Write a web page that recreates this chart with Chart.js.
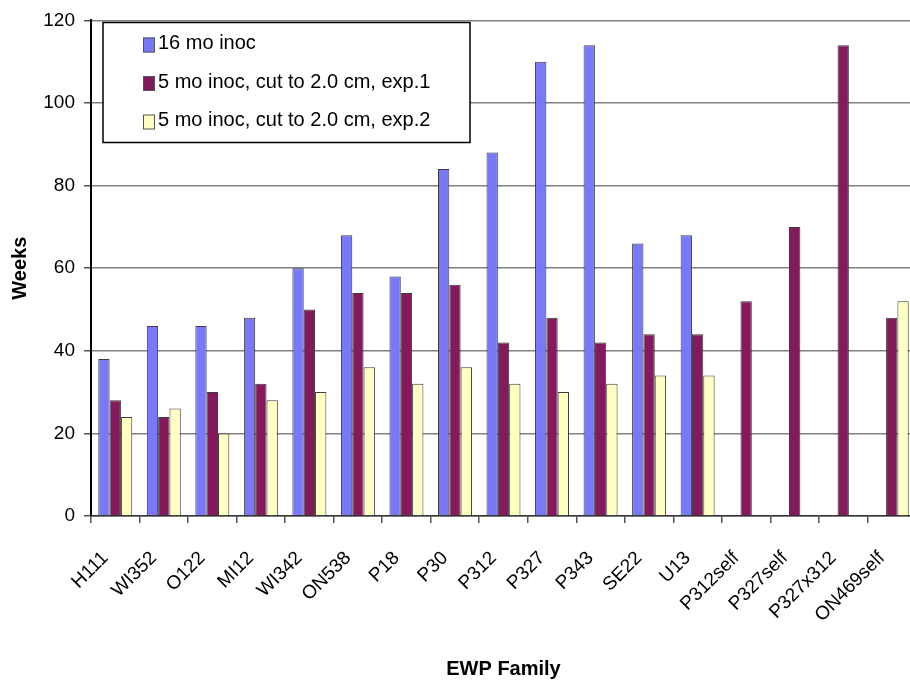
<!DOCTYPE html>
<html>
<head>
<meta charset="utf-8">
<script src="https://cdn.jsdelivr.net/npm/chart.js@4/dist/chart.umd.min.js"></script>
<style>
  html, body { margin: 0; padding: 0; background: #fff; overflow: hidden; }
  #wrap { position: relative; width: 917px; height: 686px; }
</style>
</head>
<body>
<div id="wrap"><canvas id="c"></canvas></div>
<script>
// EWP families on the x axis
const families = ['H111', 'WI352', 'O122', 'MI12', 'WI342', 'ON538', 'P18', 'P30', 'P312',
  'P327', 'P343', 'SE22', 'U13', 'P312self', 'P327self', 'P327x312', 'ON469self'];

// Series names
const seriesNames = ['16 mo inoc', '5 mo inoc, cut to 2.0 cm, exp.1', '5 mo inoc, cut to 2.0 cm, exp.2'];

// Weeks per family for each series (null = not tested)
const inoc16 = [38, 46, 46, 48, 60, 68, 58, 84, 88, 110, 114, 66, 68, null, null, null, null];
const exp1   = [28, 24, 30, 32, 50, 54, 54, 56, 42, 48, 42, 44, 44, 52, 70, 114, 48];
const exp2   = [24, 26, 20, 28, 30, 36, 32, 36, 32, 30, 32, 34, 34, null, null, null, 52];

// Y axis ticks
const weekTicks = [0, 20, 40, 60, 80, 100, 120];

const colors = ['#7878f8', '#84195b', '#ffffc4'];

Chart.defaults.font.family = '"Liberation Sans", Arial, sans-serif';
Chart.defaults.color = '#000';

// Boxed legend drawn inside the plot area, top left
const legendBox = {
  id: 'legendBox',
  afterDatasetsDraw(chart, args, o) {
    const ctx = chart.ctx;
    ctx.save();
    ctx.fillStyle = '#fff';
    ctx.fillRect(o.left, o.top, o.width, o.height);
    ctx.strokeStyle = '#000';
    ctx.lineWidth = 1.5;
    ctx.strokeRect(o.left, o.top, o.width, o.height);
    ctx.font = '20px "Liberation Sans", Arial, sans-serif';
    ctx.textBaseline = 'alphabetic';
    ctx.textAlign = 'left';
    chart.data.datasets.forEach((ds, i) => {
      const cy = o.firstRow + i * o.rowGap;
      ctx.fillStyle = ds.backgroundColor;
      ctx.fillRect(o.markerX, cy - 7.5, 12, 15);
      ctx.strokeStyle = '#555';
      ctx.lineWidth = 1;
      ctx.strokeRect(o.markerX + 0.5, cy - 7, 11, 14);
      ctx.fillStyle = '#000';
      ctx.fillText(ds.label, o.textX, cy + 4);
    });
    ctx.restore();
  }
};

new Chart(document.getElementById('c'), {
  type: 'bar',
  data: {
    labels: families,
    datasets: [inoc16, exp1, exp2].map((d, i) => ({
      label: seriesNames[i],
      data: d,
      backgroundColor: colors[i],
      borderColor: '#3c3c3c',
      borderWidth: 1,
      categoryPercentage: 0.7,
      barPercentage: 1.0
    }))
  },
  options: {
    responsive: true,
    maintainAspectRatio: false,
    animation: false,
    layout: { padding: { top: 20, left: 0, right: 1, bottom: 0 } },
    plugins: {
      legend: { display: false },
      tooltip: { enabled: false },
      legendBox: {
        left: 103, top: 22.5, width: 367, height: 120,
        markerX: 143, textX: 158, firstRow: 45, rowGap: 38.5
      }
    },
    scales: {
      x: {
        afterFit(s) { s.height = 170; s.paddingLeft = 0; s.paddingRight = 0; },
        grid: {
          drawOnChartArea: false, offset: true, tickLength: 7,
          color: '#555', lineWidth: 1.5
        },
        border: { color: '#333', width: 1.5 },
        ticks: {
          autoSkip: false, maxRotation: 45, minRotation: 45,
          padding: 24, labelOffset: -10,
          font: { size: 19 }, color: '#000'
        },
        title: {
          display: true, text: 'EWP Family',
          font: { size: 20, weight: 'bold' },
          padding: { top: 0, bottom: 5 }
        }
      },
      y: {
        min: 0, max: 120,
        afterFit(s) { s.width = 91; },
        afterBuildTicks(s) { s.ticks = weekTicks.map(v => ({ value: v })); },
        grid: { color: '#808080', lineWidth: 1.5, tickLength: 7, tickColor: '#555' },
        border: { color: '#000', width: 2 },
        ticks: { padding: 9, font: { size: 19 }, color: '#000' },
        title: {
          display: true, text: 'Weeks',
          font: { size: 20, weight: 'bold' },
          padding: { top: 8, bottom: 0 }
        }
      }
    }
  },
  plugins: [legendBox]
});
</script>
</body>
</html>
